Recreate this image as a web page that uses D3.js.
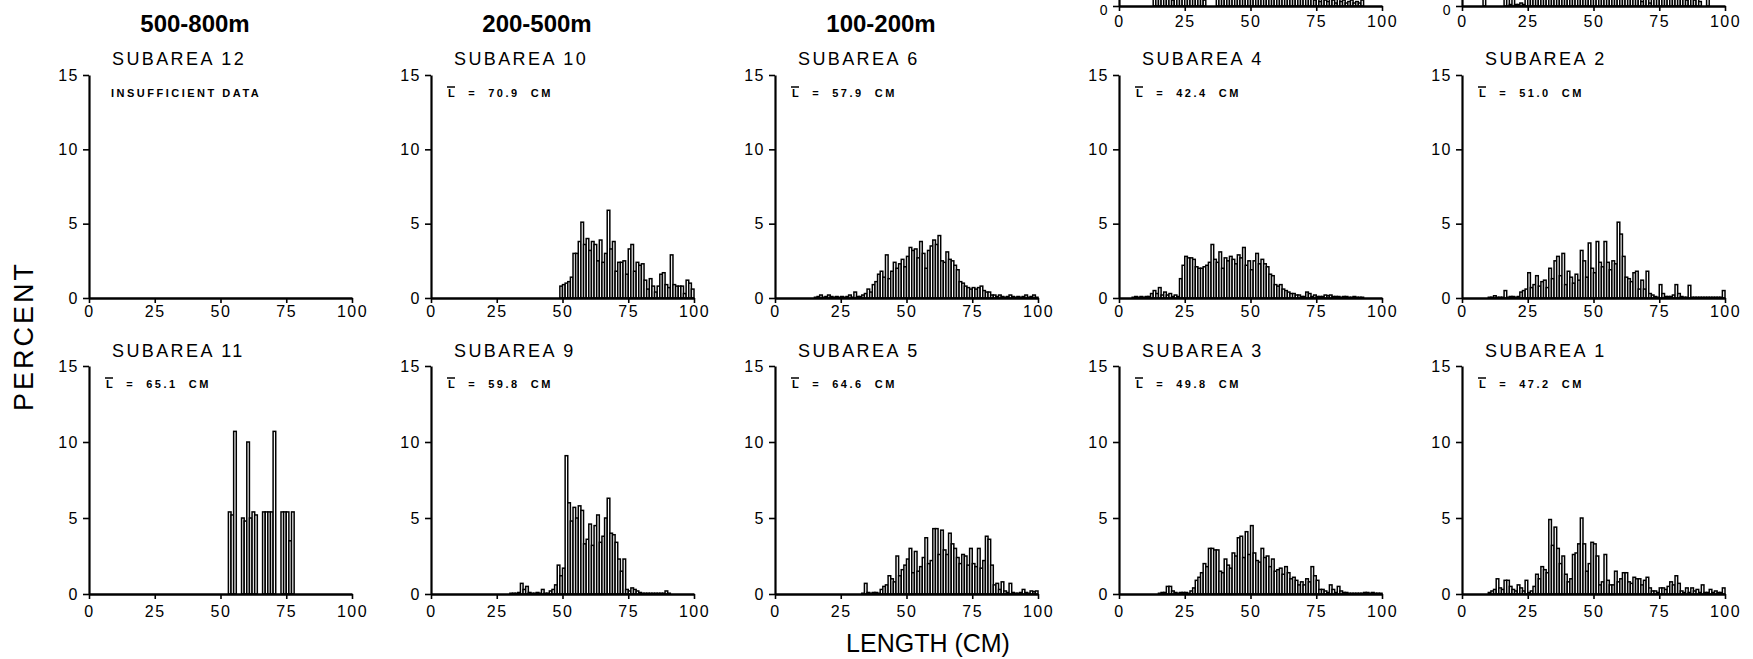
<!DOCTYPE html>
<html>
<head>
<meta charset="utf-8">
<script src="https://cdn.jsdelivr.net/npm/d3@7"></script>
<style>
  body { margin: 0; background: #fff; }
  svg { display: block; }
</style>
</head>
<body>
<svg id="chart"></svg>
<script>
// Length-frequency data, percent per 1 cm length class
// each series starts at the length given by its *Start value
var sub10Start = 49;
var sub10 = [0.8,0.9,1.0,1.1,1.4,3.0,3.0,3.8,5.1,3.6,4.0,3.2,3.8,3.6,2.5,3.9,2.4,3.0,5.9,3.3,
  3.8,1.8,2.4,2.4,2.5,1.6,3.3,3.6,1.8,2.4,2.2,2.3,1.2,0.6,1.3,0.8,0.4,0.8,1.6,1.7,
  0.9,0.7,2.9,0.9,0.8,0.8,0.8,0.3,1.2,1.0,0.6];

var sub6Start = 15;
var sub6 = [0.05,0.1,0.2,0.05,0.1,0.2,0.1,0.05,0.1,0.05,
  0.1,0.05,0.1,0.2,0.05,0.4,0.1,0.1,0.2,0.3,
  0.6,0.4,0.9,1.1,1.6,1.8,1.4,2.9,1.3,1.8,
  2.4,2.0,2.3,2.6,2.1,2.8,3.4,3.2,3.3,2.7,
  3.8,3.0,2.0,3.2,3.5,3.9,3.6,4.2,2.5,2.4,
  3.1,2.6,2.5,2.2,1.9,1.1,1.0,0.8,0.7,0.6,
  0.7,0.6,0.7,0.8,0.5,0.4,0.4,0.2,0.2,0.1,
  0.2,0.1,0.05,0.1,0.2,0.1,0.05,0.1,0.05,0.1,
  0.2,0.05,0.1,0.2,0.05];

var sub4Start = 5;
var sub4 = [0.05,0.1,0.05,0.1,0.05,0.1,0.1,0.3,0.5,0.3,
  0.7,0.2,0.4,0.2,0.3,0.1,0.2,0.1,1.3,2.2,
  2.8,2.7,2.7,2.6,2.1,2.0,2.0,2.1,2.2,2.4,
  3.6,2.6,2.4,3.1,2.0,2.7,2.5,2.8,2.6,2.3,
  2.9,2.7,3.4,2.2,2.5,1.9,2.5,3.0,2.3,2.6,
  2.3,2.1,1.6,1.5,0.9,0.8,0.9,0.6,0.5,0.4,
  0.3,0.3,0.2,0.2,0.1,0.1,0.4,0.3,0.1,0.2,
  0.1,0.1,0.1,0.2,0.15,0.2,0.1,0.1,0.1,0.05,
  0.1,0.1,0.05,0.05,0.1,0.05,0.05,0.05];

var sub2Start = 10;
var sub2 = [0.05,0.05,0.15,0.05,0.05,0.05,0.5,0.05,0.1,0.1,
  0.05,0.1,0.4,0.5,0.6,1.7,0.7,0.9,1.5,0.8,
  1.1,1.2,0.7,2.0,1.3,2.5,2.8,1.5,3.0,0.9,
  1.8,1.4,1.0,1.6,1.2,3.2,2.5,1.4,3.7,2.0,
  1.7,3.8,2.4,2.1,3.8,2.4,1.9,2.5,2.3,5.1,
  4.3,2.8,1.4,1.3,1.1,1.7,1.8,0.6,1.2,0.6,
  1.8,0.3,0.2,0.1,0.05,0.9,0.3,0.1,0.1,0.1,
  0.2,0.9,0.3,0.1,0.05,0.05,0.85,0.05,0.05,0.05,
  0.05,0.05,0.05,0.05,0.05,0.05,0.05,0.05,0.05,0.5];

var sub11Start = 52;
var sub11 = [0,5.4,5.2,10.7,0,0,5.0,4.8,10.0,5.0,
  5.4,5.2,0,0,5.4,5.4,5.4,5.4,10.7,0,
  0,5.4,5.4,5.4,3.5,5.4];

var sub9Start = 30;
var sub9 = [0.05,0.05,0.05,0.1,0.7,0.3,0.5,0.1,0.05,0.05,
  0.1,0.05,0.3,0.05,0.05,0.2,0.3,0.6,1.9,1.2,
  1.7,9.1,6.0,4.8,5.7,5.0,5.8,5.5,3.3,3.6,
  4.6,3.2,4.5,5.2,3.4,3.8,5.0,6.3,4.0,3.9,
  3.4,2.3,1.5,2.3,0.3,0.2,0.4,0.3,0.2,0.1,
  0.05,0.05,0.05,0.05,0.05,0.05,0.05,0.05,0.05,0.2,0.05];

var sub5Start = 33;
var sub5 = [0.05,0.7,0.1,0.05,0.1,0.1,0.05,0.3,0.5,0.6,
  1.2,1.0,0.8,2.5,1.2,1.6,1.9,2.3,3.0,1.4,
  2.8,1.5,1.8,2.4,3.7,2.0,2.2,4.3,4.3,2.6,
  4.2,2.9,2.6,4.0,3.3,3.0,2.4,2.0,2.6,2.5,
  1.9,3.0,2.0,1.8,3.0,1.7,2.2,3.8,3.6,1.9,
  0.6,0.7,0.3,0.8,0.2,0.1,0.7,0.1,0.05,0.05,
  0.1,0.3,0.1,0.05,0.2,0.15,0.2];

var sub3Start = 15;
var sub3 = [0.05,0.1,0.1,0.5,0.5,0.2,0.1,0.05,0.1,0.1,
  0.1,0.05,0.2,0.4,0.9,1.1,1.4,2.0,1.8,3.0,
  3.0,2.9,2.9,1.5,1.4,2.3,1.9,1.7,2.7,2.5,
  3.7,3.8,2.4,4.1,2.6,4.5,2.7,2.2,2.1,3.0,
  2.4,2.5,1.8,2.3,1.5,1.6,1.7,1.3,1.8,1.4,
  1.0,1.1,0.9,0.6,0.8,0.6,1.0,0.8,1.8,1.2,
  0.9,0.3,0.3,0.2,0.1,0.6,0.3,0.1,0.5,0.2,
  0.1,0.1,0.05,0.05,0.05,0.05,0.05,0.05,0.1,0.1,
  0.05,0.1,0.05,0.05,0.05];

var sub1Start = 10;
var sub1 = [0.1,0.2,0.3,1.0,0.4,0.3,0.9,0.9,0.5,0.3,
  0.2,0.6,0.4,0.2,0.9,0.1,0.2,0.5,1.3,1.0,
  1.8,1.6,1.4,4.9,3.2,4.4,3.0,2.0,2.5,1.3,
  0.8,1.0,2.6,2.7,3.3,5.0,3.3,1.5,2.0,3.4,
  3.3,2.5,0.6,0.8,2.6,0.9,0.6,0.6,1.5,0.8,
  1.0,1.4,1.4,0.8,0.7,1.1,1.0,1.0,0.6,0.9,
  1.1,0.4,0.2,0.2,0.1,0.4,0.4,0.3,0.5,0.8,
  0.6,1.2,0.7,0.2,0.1,0.4,0.1,0.4,0.2,0.3,
  0.1,0.6,0.1,0.1,0.3,0.1,0.2,0.1,0.1,0.4];

// panels of the row above, cut off at the top of the page
var topAStart = 13;
var topA = [0.6,0.8,1.0,0.5,0.9,1.2,0.8,0.4,1.0,1.1,0.7,1.3,0.9,0.6,1.0,0.8,0.5,0.9,0.7,0.4,
  0,0,0,0,
  0.8,1.2,1.5,1.8,2.0,1.6,2.2,2.4,1.9,2.6,2.3,2.8,2.1,2.5,3.0,2.2,2.7,2.4,2.0,2.6,
  2.2,1.8,2.4,1.6,1.9,1.4,1.2,1.5,1.0,1.3,0.9,1.1,0.8,0.6,0.9,0.5,0.7,0.4,0.6,0.3,
  0.5,0.4,0.3,0.6,0.4,0.2,0.5,0.3,0.4,0.2,0.3,0.4,0.2,0.3,0.2,0.4];

var topBStart = 8;
var topB = [0.6,0,0,0,0,0,0,0,0.8,0.5,0.1,0.7,0.1,0.1,0.2,0.1,
  0.9,1.2,1.0,1.5,1.3,1.8,1.6,2.0,1.7,2.3,2.1,2.6,2.4,2.9,2.2,2.7,3.1,2.5,2.8,3.0,
  2.6,3.2,2.4,2.9,3.4,2.7,3.0,2.5,3.3,2.8,3.1,2.6,2.9,2.3,2.7,3.5,2.4,2.1,2.6,1.9,
  2.2,1.7,2.0,1.5,0.3,1.4,1.8,0.2,1.2,1.0,1.3,0.9,1.1,0.8,1.0,0.7,0.9,0.6,0.8,0.5,
  0.7,0.4,0.6,0.5,0.4,0.6,0.3,0,0,0.9];

var depthLabels = ["500-800m", "200-500m", "100-200m"];
var yTicks = [0, 5, 10, 15];
var xTicks = [0, 25, 50, 75, 100];

// Layout
var svgWidth = 1753;
var svgHeight = 659;
var colX = [89, 431, 775, 1119, 1462];
var panelW = 263;
var rows = [
  { y0: 6, y15: -217, labelDy: 21, yTicks: [0], yLabelShift: 4 },
  { y0: 298, y15: 75, titleY: 65, noteY: 97, labelDy: 19, yTicks: yTicks, yLabelShift: 0 },
  { y0: 594, y15: 366, titleY: 357, noteY: 388, labelDy: 23, yTicks: yTicks, yLabelShift: 0 }
];

var panels = [
  { row: 0, col: 3, start: topAStart, values: topA },
  { row: 0, col: 4, start: topBStart, values: topB },
  { row: 1, col: 0, title: "SUBAREA 12", note: "INSUFFICIENT DATA", start: 0, values: [] },
  { row: 1, col: 1, title: "SUBAREA 10", mean: "70.9", start: sub10Start, values: sub10 },
  { row: 1, col: 2, title: "SUBAREA 6", mean: "57.9", start: sub6Start, values: sub6 },
  { row: 1, col: 3, title: "SUBAREA 4", mean: "42.4", start: sub4Start, values: sub4 },
  { row: 1, col: 4, title: "SUBAREA 2", mean: "51.0", start: sub2Start, values: sub2 },
  { row: 2, col: 0, title: "SUBAREA 11", mean: "65.1", start: sub11Start, values: sub11 },
  { row: 2, col: 1, title: "SUBAREA 9", mean: "59.8", start: sub9Start, values: sub9 },
  { row: 2, col: 2, title: "SUBAREA 5", mean: "64.6", start: sub5Start, values: sub5 },
  { row: 2, col: 3, title: "SUBAREA 3", mean: "49.8", start: sub3Start, values: sub3 },
  { row: 2, col: 4, title: "SUBAREA 1", mean: "47.2", start: sub1Start, values: sub1 }
];

var svg = d3.select("#chart")
  .attr("width", svgWidth)
  .attr("height", svgHeight)
  .style("background", "#fff");

var sansFont = "'Liberation Sans', Arial, sans-serif";

panels.forEach(function(p) {
  var row = rows[p.row];
  var g = svg.append("g").attr("transform", `translate(${colX[p.col]}, 0)`);

  var x = d3.scaleLinear().domain([0, 100]).range([0, panelW]);
  var y = d3.scaleLinear().domain([0, 15]).range([row.y0, row.y15]);

  // histogram bars, one per 1 cm class
  var bars = p.values.map(function(v, i) { return { len: p.start + i, pct: v }; })
    .filter(function(d) { return d.pct > 0; });

  g.selectAll("rect.bar")
    .data(bars)
    .enter()
    .append("rect")
    .attr("class", "bar")
    .attr("x", d => x(d.len))
    .attr("width", d => x(d.len + 1) - x(d.len))
    .attr("y", d => y(d.pct))
    .attr("height", d => y(0) - y(d.pct))
    .attr("fill", "#fff")
    .attr("stroke", "#000")
    .attr("stroke-width", 1.5);

  // y axis
  var yAxis = g.append("g")
    .call(d3.axisLeft(y).tickValues(row.yTicks).tickSize(6).tickSizeOuter(0).tickPadding(4));
  yAxis.select(".domain").attr("stroke-width", 2.2);
  yAxis.selectAll(".tick line").attr("stroke-width", 1.6);
  yAxis.selectAll(".tick text")
    .attr("y", row.yLabelShift)
    .attr("font-family", sansFont)
    .attr("font-size", p.row === 0 ? 14 : 16)
    .attr("letter-spacing", 1.5);

  // x axis
  var xAxis = g.append("g")
    .attr("transform", `translate(0, ${row.y0})`)
    .call(d3.axisBottom(x).tickValues(xTicks).tickSize(5).tickSizeOuter(0)
      .tickPadding(row.labelDy - 5 - 11));
  xAxis.select(".domain").attr("stroke-width", 2.6);
  xAxis.selectAll(".tick line").attr("stroke-width", 1.6);
  xAxis.selectAll(".tick text")
    .attr("font-family", sansFont)
    .attr("font-size", 16)
    .attr("letter-spacing", 1.5);

  if (p.title) {
    g.append("text")
      .attr("x", 23)
      .attr("y", row.titleY)
      .attr("font-family", sansFont)
      .attr("font-size", 18)
      .attr("letter-spacing", 2.4)
      .text(p.title);
  }
  if (p.note) {
    g.append("text")
      .attr("x", 22)
      .attr("y", row.noteY)
      .attr("font-family", sansFont)
      .attr("font-weight", "bold")
      .attr("font-size", 11)
      .attr("letter-spacing", 2.5)
      .text(p.note);
  }
  if (p.mean) {
    // mean length, L with a bar over it
    var meanText = g.append("text")
      .attr("x", 17)
      .attr("y", row.noteY)
      .attr("font-family", sansFont)
      .attr("font-weight", "bold")
      .attr("font-size", 11)
      .attr("letter-spacing", 2.5)
      .attr("xml:space", "preserve")
      .style("white-space", "pre")
      .text(`L  =  ${p.mean}  CM`);
    var box = meanText.node().getExtentOfChar(0);
    g.append("line")
      .attr("x1", box.x - 1)
      .attr("x2", box.x + 7)
      .attr("y1", row.noteY - 10)
      .attr("y2", row.noteY - 10)
      .attr("stroke", "#000")
      .attr("stroke-width", 1.5);
  }
});

// depth headers above the first three columns
svg.selectAll("text.depth")
  .data(depthLabels)
  .enter()
  .append("text")
  .attr("class", "depth")
  .attr("x", (d, i) => colX[i] + 106)
  .attr("y", 32)
  .attr("text-anchor", "middle")
  .attr("font-family", sansFont)
  .attr("font-weight", "bold")
  .attr("font-size", 24)
  .text(d => d);

// axis titles
svg.append("text")
  .attr("transform", "translate(33, 336) rotate(-90)")
  .attr("text-anchor", "middle")
  .attr("font-family", sansFont)
  .attr("font-size", 27)
  .attr("letter-spacing", 3)
  .text("PERCENT");

svg.append("text")
  .attr("x", 928)
  .attr("y", 652)
  .attr("text-anchor", "middle")
  .attr("font-family", sansFont)
  .attr("font-size", 25)
  .text("LENGTH (CM)");
</script>
</body>
</html>
